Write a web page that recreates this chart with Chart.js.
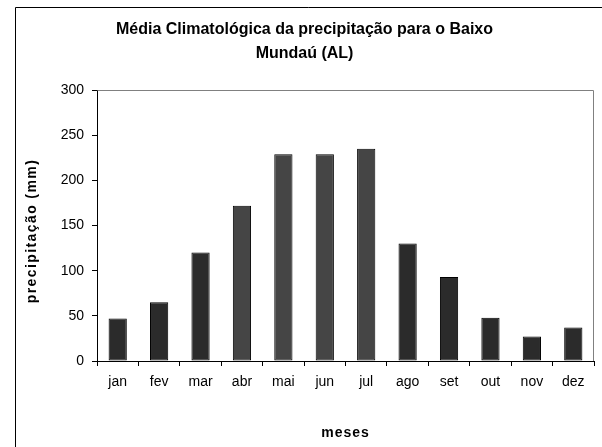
<!DOCTYPE html>
<html>
<head>
<meta charset="utf-8">
<script src="https://cdn.jsdelivr.net/npm/chart.js@4/dist/chart.umd.min.js"></script>
<style>
html,body{margin:0;padding:0;background:#fff;}
canvas{display:block;}
</style>
</head>
<body>
<canvas id="c" width="602" height="447"></canvas>
<script>
const months = ['jan','fev','mar','abr','mai','jun','jul','ago','set','out','nov','dez'];
const precip = [47, 65, 120, 172, 229, 229, 235, 130, 93, 48, 27, 37];
const yTicks = [0, 50, 100, 150, 200, 250, 300];
const barColors = ['#2b2b2b','#2b2b2b','#2b2b2b','#454545','#454545','#454545','#454545','#2b2b2b','#2b2b2b','#2b2b2b','#2b2b2b','#2b2b2b'];
const titleLines = ['Média Climatológica da precipitação para o Baixo', 'Mundaú (AL)'];
const yTitle = 'precipitação (mm)';
const xTitle = 'meses';

const FONT = "'Liberation Sans', Arial, sans-serif";

const framePlugin = {
  id: 'frame',
  beforeDraw(chart) {
    const ctx = chart.ctx;
    ctx.save();
    ctx.fillStyle = '#fff';
    ctx.fillRect(0, 0, chart.width, chart.height);
    ctx.strokeStyle = '#000';
    ctx.lineWidth = 1;
    ctx.beginPath();
    ctx.moveTo(15.5, chart.height);
    ctx.lineTo(15.5, 7.5);
    ctx.lineTo(chart.width, 7.5);
    ctx.stroke();
    ctx.restore();
  },
  beforeDatasetsDraw(chart) {
    const a = chart.chartArea;
    const ctx = chart.ctx;
    ctx.save();
    ctx.strokeStyle = '#808080';
    ctx.lineWidth = 1;
    ctx.beginPath();
    ctx.moveTo(Math.round(a.left) + 0.5, Math.round(a.top) + 0.5);
    ctx.lineTo(Math.round(a.right) - 0.5, Math.round(a.top) + 0.5);
    ctx.lineTo(Math.round(a.right) - 0.5, Math.round(a.bottom));
    ctx.stroke();
    ctx.restore();
  },
  afterDraw(chart) {
    const a = chart.chartArea;
    const ctx = chart.ctx;
    ctx.save();
    ctx.fillStyle = '#000';
    ctx.font = "bold 14px " + FONT;
    ctx.textAlign = 'center';
    ctx.textBaseline = 'middle';
    ctx.letterSpacing = '1px';
    ctx.fillText(xTitle, (a.left + a.right) / 2, 433);
    ctx.translate(32, 231);
    ctx.rotate(-Math.PI / 2);
    ctx.letterSpacing = '1.4px';
    ctx.fillText(yTitle, 0, 0);
    ctx.restore();
  }
};

new Chart(document.getElementById('c'), {
  type: 'bar',
  data: {
    labels: months,
    datasets: [{
      data: precip,
      backgroundColor: barColors,
      borderColor: '#000',
      borderWidth: 1,
      borderSkipped: false,
      barPercentage: 0.44,
      categoryPercentage: 1
    }]
  },
  options: {
    responsive: false,
    animation: false,
    devicePixelRatio: 1,
    layout: { padding: { left: 15, top: 0, right: 8, bottom: 0 } },
    plugins: {
      legend: { display: false },
      tooltip: { enabled: false },
      title: {
        display: true,
        text: titleLines,
        color: '#000',
        font: { family: FONT, size: 16, weight: 'bold', lineHeight: 1.5 },
        padding: { top: 18, bottom: 24 }
      }
    },
    scales: {
      x: {
        afterFit(s) { s.height = 86; },
        grid: { display: true, drawOnChartArea: false, drawTicks: true, tickLength: 5, color: '#000', offset: true },
        border: { display: true, color: '#000', width: 1 },
        ticks: { color: '#000', font: { family: FONT, size: 14 }, padding: 8, maxRotation: 0, autoSkip: false },
        title: { display: false }
      },
      y: {
        min: 0, max: 300,
        afterFit(s) { s.width = 82; },
        afterBuildTicks(s) { s.ticks = yTicks.map(v => ({ value: v })); },
        grid: { display: true, drawOnChartArea: false, drawTicks: true, tickLength: 5, color: '#000' },
        border: { display: true, color: '#000', width: 1 },
        ticks: { color: '#000', font: { family: FONT, size: 14 }, padding: 8 },
        title: { display: false }
      }
    }
  },
  plugins: [framePlugin]
});
</script>
</body>
</html>
